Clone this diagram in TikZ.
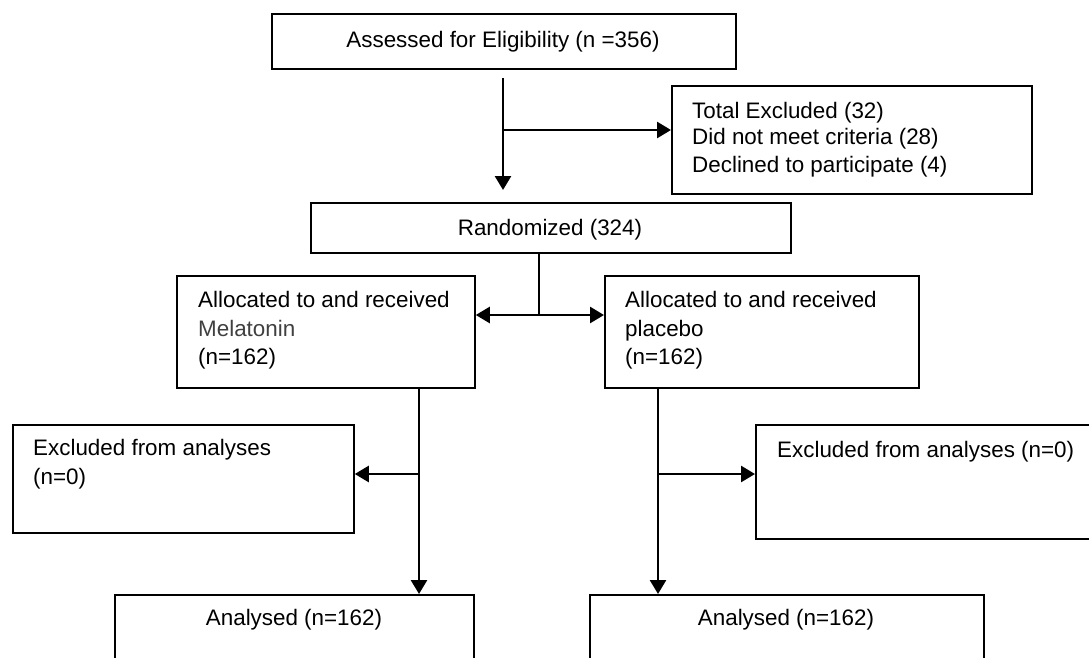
\documentclass[tikz,border=0pt]{standalone}
\usepackage{fontspec}
\setmainfont{Liberation Sans}
\usetikzlibrary{arrows.meta}
\definecolor{mgray}{RGB}{64,64,64}
\begin{document}
\begin{tikzpicture}[x=1pt,y=-1pt,
  box/.style={draw, line width=1.8pt, rectangle, anchor=north west, inner sep=0pt},
  txt/.style={anchor=base west, inner sep=0pt, font=\fontsize{22.4}{27}\selectfont},
  ctxt/.style={txt, anchor=base},
  conn/.style={line width=2.6pt},
  arr/.style={conn, -{Triangle[length=14pt,width=16pt]}}]
\path[use as bounding box] (0,0) rectangle (1089,658);
\clip (0,0) rectangle (1089,658);
% boxes
\node[box, minimum width=464pt, minimum height=55pt] (A) at (271,13) {};
\node[box, minimum width=360pt, minimum height=108pt] (E) at (671,85) {};
\node[box, minimum width=480pt, minimum height=50pt] (R) at (310,202) {};
\node[box, minimum width=298pt, minimum height=112pt] (L) at (176,275) {};
\node[box, minimum width=314pt, minimum height=112pt] (P) at (604,275) {};
\node[box, minimum width=341pt, minimum height=108pt] (LE) at (12,424) {};
\node[box, minimum width=340pt, minimum height=114pt] (PE) at (755,424) {};
\node[box, minimum width=359pt, minimum height=120pt] (AL) at (114,594) {};
\node[box, minimum width=394pt, minimum height=120pt] (AR) at (589,594) {};
% texts
\node[ctxt] (At) at (503,48) {Assessed for Eligibility (n =356)};
\node[txt] (Et1) at (692,118) {Total Excluded (32)};
\node[txt] (Et2) at (692,145) {Did not meet criteria (28)};
\node[txt] (Et3) at (692,172) {Declined to participate (4)};
\node[ctxt] (Rt) at (550,235) {Randomized (324)};
\node[txt] (Lt1) at (198,307) {Allocated to and received};
\node[txt, text=mgray] (Lt2) at (198,336) {Melatonin};
\node[txt] (Lt3) at (198,364) {(n=162)};
\node[txt] (Pt1) at (625,307) {Allocated to and received};
\node[txt] (Pt2) at (625,336) {placebo};
\node[txt] (Pt3) at (625,364) {(n=162)};
\node[txt] (LEt1) at (33,455) {Excluded from analyses};
\node[txt] (LEt2) at (33,484) {(n=0)};
\node[txt] (PEt1) at (777,457) {Excluded from analyses (n=0)};
\node[ctxt] (ALt) at (294,625) {Analysed (n=162)};
\node[ctxt] (ARt) at (786,625) {Analysed (n=162)};
% connectors
\coordinate (a1) at (503,78);
\coordinate (a2) at (503,190);
\coordinate (b1) at (503,130);
\draw[arr] (a1) -- (a2);
\draw[arr] (b1) -- (b1 -| E.west);
\coordinate (r1) at (539,252);
\coordinate (r2) at (539,315);
\draw[conn] (r1) -- (r2);
\draw[arr] (r2) -- (r2 -| L.east);
\draw[arr] (r2) -- (r2 -| P.west);
\coordinate (l1) at (419,387);
\coordinate (l2) at (419,474);
\draw[arr] (l1) -- (l1 |- AL.north);
\draw[arr] (l2) -- (l2 -| LE.east);
\coordinate (p1) at (658,387);
\coordinate (p2) at (658,474);
\draw[arr] (p1) -- (p1 |- AR.north);
\draw[arr] (p2) -- (p2 -| PE.west);
\end{tikzpicture}
\end{document}
